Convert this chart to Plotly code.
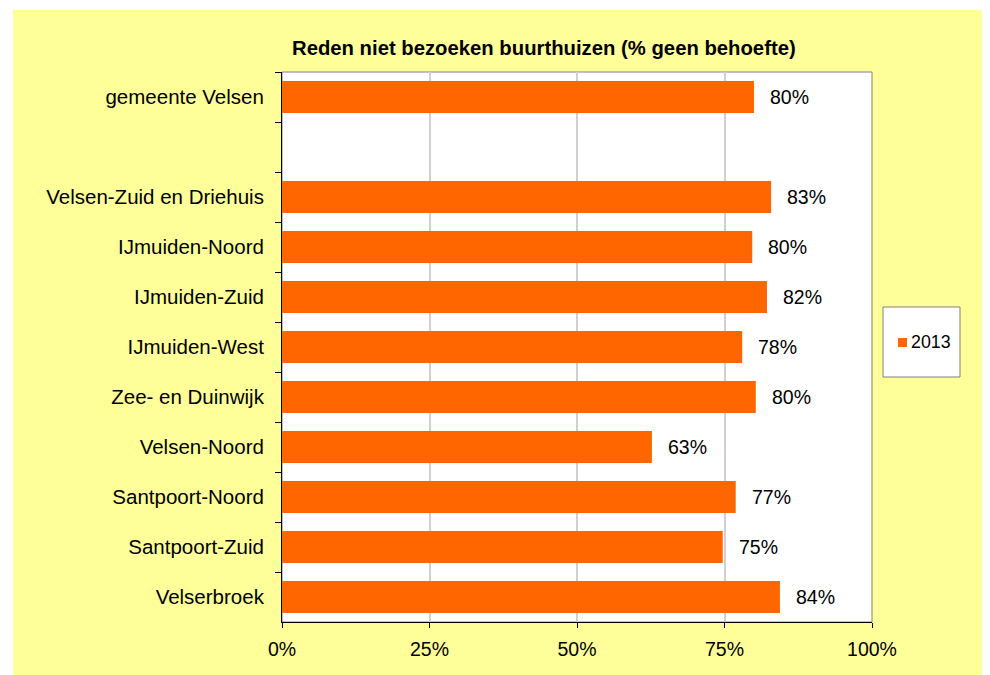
import plotly.graph_objects as go

# ---- data ----
categories = ["gemeente Velsen", " ", "Velsen-Zuid en Driehuis", "IJmuiden-Noord",
              "IJmuiden-Zuid", "IJmuiden-West", "Zee- en Duinwijk", "Velsen-Noord",
              "Santpoort-Noord", "Santpoort-Zuid", "Velserbroek"]
values_2013 = [80.0, None, 82.9, 79.7, 82.2, 78.0, 80.3, 62.7, 76.9, 74.7, 84.4]
x_ticks = [0, 25, 50, 75, 100]
x_tick_labels = ["0%", "25%", "50%", "75%", "100%"]
series_name = "2013"
title_text = "Reden niet bezoeken buurthuizen (% geen behoefte)"

# ---- layout geometry (pixels in the page; page body has an 8px margin) ----
OFF = 8
W, H = 1000 - OFF, 685 - OFF
L, R, T, B = 282, 872, 72, 622   # plot area in page pixels
pw, ph = R - L, B - T
def px(x):
    return (x - L) / pw
def py(y):
    return (B - y) / ph

FONT = "Liberation Sans, Arial, sans-serif"
ORANGE = "#FF6600"

fig = go.Figure()
fig.add_trace(go.Bar(
    x=values_2013, y=categories, orientation="h",
    marker=dict(color=ORANGE, line=dict(width=0)),
    width=0.64, name=series_name, showlegend=False,
))

annotations = []
for c, v in zip(categories, values_2013):
    if v is None:
        continue
    annotations.append(dict(
        x=v, y=c, xref="x", yref="y", text=f"{v:.0f}%", showarrow=False,
        xanchor="left", yanchor="middle", xshift=14,
        font=dict(family=FONT, size=19.5, color="black"),
    ))

annotations.append(dict(
    x=px(544), y=py(48), xref="paper", yref="paper", text=f"<b>{title_text}</b>",
    showarrow=False, xanchor="center", yanchor="middle",
    font=dict(family=FONT, size=20.3, color="black"),
))
annotations.append(dict(
    x=px(909), y=py(342), xref="paper", yref="paper", text=series_name,
    showarrow=False, xanchor="left", yanchor="middle",
    font=dict(family=FONT, size=17.8, color="black"),
))

shapes = [
    # plot area border (gray)
    dict(type="rect", xref="paper", yref="paper", x0=0, x1=1, y0=0, y1=1,
         line=dict(color="#808080", width=1), fillcolor="rgba(0,0,0,0)", layer="below"),
    # white outer margins
    dict(type="rect", xref="paper", yref="paper", x0=px(-5), x1=px(13), y0=py(700), y1=py(-5),
         line=dict(width=0), fillcolor="white"),
    dict(type="rect", xref="paper", yref="paper", x0=px(-5), x1=px(1000), y0=py(10), y1=py(-5),
         line=dict(width=0), fillcolor="white"),
    # legend box
    dict(type="rect", xref="paper", yref="paper", x0=px(883), x1=px(960), y0=py(377), y1=py(307),
         line=dict(color="#808080", width=1), fillcolor="white"),
    dict(type="rect", xref="paper", yref="paper", x0=px(898), x1=px(907), y0=py(347), y1=py(338),
         line=dict(width=0), fillcolor=ORANGE),
]

fig.update_layout(
    width=W, height=H, autosize=False,
    margin=dict(l=L - OFF, r=W - (R - OFF), t=T - OFF, b=H - (B - OFF), pad=0),
    paper_bgcolor="#FFFF99", plot_bgcolor="white",
    font=dict(family=FONT, size=19.5, color="black"),
    showlegend=False,
    annotations=annotations, shapes=shapes,
    xaxis=dict(range=[0, 100], tickvals=x_ticks, ticktext=x_tick_labels,
               showgrid=True, gridcolor="#D0D0D0", gridwidth=1.5, zeroline=False,
               showline=True, linecolor="black", linewidth=1,
               ticks="outside", ticklen=5, tickcolor="black", ticklabelstandoff=5,
               tickfont=dict(family=FONT, size=19.5, color="black"), fixedrange=True),
    yaxis=dict(type="category", categoryorder="array", categoryarray=categories,
               autorange="reversed", tickson="boundaries", showgrid=False,
               showline=True, linecolor="black", linewidth=1,
               ticks="outside", ticklen=6, tickcolor="black", ticklabelstandoff=13,
               tickfont=dict(family=FONT, size=20.5, color="black"), fixedrange=True),
)

fig.write_html("out.html")
